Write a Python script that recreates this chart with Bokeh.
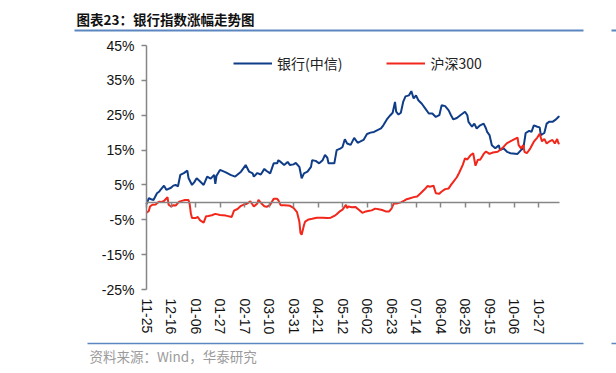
import datetime as dt
from bokeh.plotting import figure
from bokeh.models import (Range1d, FixedTicker, PrintfTickFormatter, DatetimeTickFormatter,
                          DatetimeAxis, CustomJSTickFormatter, Legend, LegendItem,
                          ColumnDataSource)
from bokeh.core.properties import value
from bokeh.embed import file_html
from bokeh.resources import INLINE

# ---------------- data ----------------
title_text = "图表23：银行指数涨幅走势图"
source_text = "资料来源：Wind，华泰研究"
series_names = ["银行(中信)", "沪深300"]

x_start = "2024-11-25"
x_end = "2025-11-14"
y_min, y_max = -25, 45
y_ticks = [45, 35, 25, 15, 5, -5, -15, -25]
tick_dates = ["2024-11-25", "2024-12-16", "2025-01-06", "2025-01-27", "2025-02-17",
              "2025-03-10", "2025-03-31", "2025-04-21", "2025-05-12", "2025-06-02",
              "2025-06-23", "2025-07-14", "2025-08-04", "2025-08-25", "2025-09-15",
              "2025-10-06", "2025-10-27"]

bank_dates = ["2024-11-25", "2024-11-27", "2024-11-29", "2024-12-01", "2024-12-04", "2024-12-06",
              "2024-12-07", "2024-12-10", "2024-12-12", "2024-12-16", "2024-12-18", "2024-12-20",
              "2024-12-22", "2024-12-24", "2024-12-27", "2024-12-30", "2024-12-31", "2025-01-03",
              "2025-01-05", "2025-01-07", "2025-01-10", "2025-01-13", "2025-01-16", "2025-01-19",
              "2025-01-22", "2025-01-23", "2025-01-24", "2025-01-27", "2025-02-01", "2025-02-05",
              "2025-02-09", "2025-02-14", "2025-02-18", "2025-02-21", "2025-02-24", "2025-02-25",
              "2025-02-28", "2025-03-03", "2025-03-06", "2025-03-08", "2025-03-11", "2025-03-14",
              "2025-03-17", "2025-03-18", "2025-03-20", "2025-03-23", "2025-03-26", "2025-03-28",
              "2025-03-31", "2025-04-02", "2025-04-05", "2025-04-07", "2025-04-09", "2025-04-12",
              "2025-04-15", "2025-04-16", "2025-04-19", "2025-04-22", "2025-04-25", "2025-04-27",
              "2025-04-29", "2025-04-30", "2025-05-05", "2025-05-07", "2025-05-10", "2025-05-12",
              "2025-05-14", "2025-05-16", "2025-05-19", "2025-05-22", "2025-05-25", "2025-05-27",
              "2025-05-30", "2025-06-02", "2025-06-05", "2025-06-08", "2025-06-11", "2025-06-14",
              "2025-06-16", "2025-06-19", "2025-06-22", "2025-06-24", "2025-06-26", "2025-06-27",
              "2025-06-29", "2025-07-01", "2025-07-03", "2025-07-05", "2025-07-08", "2025-07-10",
              "2025-07-12", "2025-07-14", "2025-07-16", "2025-07-19", "2025-07-22", "2025-07-25",
              "2025-07-28", "2025-07-31", "2025-08-03", "2025-08-05", "2025-08-08", "2025-08-11",
              "2025-08-13", "2025-08-15", "2025-08-18", "2025-08-21", "2025-08-25", "2025-08-27",
              "2025-08-28", "2025-08-31", "2025-09-02", "2025-09-04", "2025-09-07", "2025-09-10",
              "2025-09-12", "2025-09-13", "2025-09-15", "2025-09-17", "2025-09-20", "2025-09-23",
              "2025-09-24", "2025-09-27", "2025-09-30", "2025-10-03", "2025-10-09", "2025-10-12",
              "2025-10-14", "2025-10-16", "2025-10-19", "2025-10-21", "2025-10-23", "2025-10-26",
              "2025-10-28", "2025-10-29", "2025-11-01", "2025-11-03", "2025-11-05", "2025-11-08",
              "2025-11-11", "2025-11-13", "2025-11-14"]
bank_values = [-0.5, 1.2, 0.9, 0.7, 2.6, 3.1,
               3.6, 4.8, 3.6, 4.2, 4.8, 5.0,
               4.6, 7.9, 8.4, 9.1, 7.0, 5.0,
               5.8, 6.9, 6.0, 5.0, 7.4, 6.8,
               7.9, 5.3, 7.6, 9.3, 8.6, 7.9,
               7.4, 8.8, 10.7, 8.8, 8.3, 7.4,
               8.4, 8.0, 9.6, 9.0, 8.3, 11.2,
               11.2, 12.1, 11.6, 10.7, 11.6, 10.7,
               10.9, 11.3, 10.2, 6.9, 8.3, 8.8,
               10.2, 12.1, 11.9, 11.2, 12.1, 13.6,
               12.8, 11.2, 11.2, 15.0, 15.4, 15.9,
               18.1, 16.9, 16.5, 18.5, 17.1, 17.4,
               17.9, 19.6, 20.0, 20.2, 20.7, 21.2,
               22.1, 23.8, 25.0, 25.7, 28.8, 26.0,
               25.2, 25.7, 28.8, 30.4, 30.7, 31.9,
               29.8, 30.7, 29.3, 28.3, 26.9, 25.5,
               25.5, 24.5, 25.0, 27.9, 27.6, 26.4,
               25.0, 23.8, 24.2, 25.0, 26.0, 25.0,
               23.1, 21.7, 22.6, 21.2, 22.1, 22.6,
               21.2, 20.2, 19.3, 16.4, 15.5, 16.4,
               15.0, 15.5, 14.5, 14.1, 13.9, 15.0,
               15.5, 19.9, 20.5, 20.2, 22.1, 21.7,
               21.5, 19.3, 19.9, 22.6, 23.1, 23.1,
               23.8, 24.5, 24.7]

hs300_dates = ["2024-11-25", "2024-11-27", "2024-11-28", "2024-11-30", "2024-12-03", "2024-12-04",
               "2024-12-06", "2024-12-08", "2024-12-10", "2024-12-13", "2024-12-14", "2024-12-16",
               "2024-12-18", "2024-12-20", "2024-12-23", "2024-12-26", "2024-12-28", "2024-12-31",
               "2025-01-01", "2025-01-02", "2025-01-03", "2025-01-06", "2025-01-08", "2025-01-10",
               "2025-01-13", "2025-01-15", "2025-01-17", "2025-01-20", "2025-01-23", "2025-01-27",
               "2025-02-01", "2025-02-06", "2025-02-08", "2025-02-11", "2025-02-14", "2025-02-16",
               "2025-02-19", "2025-02-22", "2025-02-25", "2025-02-28", "2025-03-01", "2025-03-04",
               "2025-03-06", "2025-03-08", "2025-03-11", "2025-03-14", "2025-03-17", "2025-03-18",
               "2025-03-20", "2025-03-23", "2025-03-26", "2025-03-28", "2025-03-31", "2025-04-03",
               "2025-04-05", "2025-04-06", "2025-04-07", "2025-04-09", "2025-04-10", "2025-04-13",
               "2025-04-16", "2025-04-20", "2025-04-25", "2025-04-29", "2025-05-02", "2025-05-05",
               "2025-05-07", "2025-05-10", "2025-05-12", "2025-05-15", "2025-05-16", "2025-05-17",
               "2025-05-20", "2025-05-23", "2025-05-26", "2025-05-29", "2025-06-01", "2025-06-04",
               "2025-06-06", "2025-06-09", "2025-06-12", "2025-06-15", "2025-06-18", "2025-06-21",
               "2025-06-23", "2025-06-25", "2025-06-28", "2025-07-01", "2025-07-04", "2025-07-06",
               "2025-07-09", "2025-07-12", "2025-07-15", "2025-07-18", "2025-07-21", "2025-07-24",
               "2025-07-26", "2025-07-29", "2025-07-31", "2025-08-03", "2025-08-05", "2025-08-08",
               "2025-08-11", "2025-08-13", "2025-08-15", "2025-08-18", "2025-08-20", "2025-08-23",
               "2025-08-25", "2025-08-27", "2025-08-30", "2025-09-01", "2025-09-03", "2025-09-05",
               "2025-09-07", "2025-09-10", "2025-09-12", "2025-09-15", "2025-09-18", "2025-09-22",
               "2025-09-24", "2025-09-27", "2025-09-30", "2025-10-04", "2025-10-09", "2025-10-10",
               "2025-10-12", "2025-10-14", "2025-10-15", "2025-10-17", "2025-10-20", "2025-10-23",
               "2025-10-26", "2025-10-28", "2025-10-30", "2025-11-01", "2025-11-03", "2025-11-05",
               "2025-11-08", "2025-11-10", "2025-11-12", "2025-11-13", "2025-11-14"]
hs300_values = [-3.0, -2.5, -1.2, -0.7, -0.6, -0.2,
                0.2, 0.1, 0.4, 1.5, -0.7, -1.2,
                -0.8, -0.9, 0.2, 0.5, 0.7, 0.7,
                -0.5, -3.1, -4.5, -4.5, -4.2, -5.2,
                -5.8, -4.0, -3.9, -3.7, -3.3, -3.6,
                -3.8, -4.2, -2.4, -1.9, -1.0, -0.7,
                -0.4, 0.3, -1.2, -0.3, 0.7, -0.5,
                -1.1, -1.3, -0.7, 1.0, 1.0, 0.6,
                -0.8, -0.8, -0.9, -1.0, -1.6, -2.8,
                -5.5, -8.8, -9.3, -6.5, -5.5, -4.9,
                -4.7, -4.4, -4.4, -4.5, -4.4, -3.9,
                -3.4, -2.5, -2.1, -0.7, -1.7, -1.2,
                -1.4, -1.3, -2.1, -3.0, -2.6, -2.4,
                -2.3, -1.8, -2.0, -2.2, -2.6, -2.6,
                -1.8, -0.3, -0.3, 0.0, 0.5, 0.9,
                1.2, 1.5, 1.7, 2.6, 3.6, 4.7,
                4.5, 4.8, 2.6, 2.5, 3.1, 3.8,
                4.0, 5.0, 5.9, 7.2, 8.5, 10.7,
                12.6, 12.3, 13.6, 14.1, 10.5, 12.2,
                12.2, 13.9, 14.6, 13.9, 14.3, 14.5,
                15.0, 15.9, 17.0, 17.7, 18.6, 16.4,
                15.5, 16.4, 14.5, 14.1, 15.5, 17.4,
                18.6, 19.7, 17.5, 18.2, 16.9, 17.4,
                17.9, 16.9, 18.2, 17.0, 16.8]

assert len(bank_dates) == len(bank_values)
assert len(hs300_dates) == len(hs300_values)

# ---------------- styles / layout ----------------
BLUE = "#0f3d88"
RED = "#f2261a"
AXIS_GRAY = "#868686"
RULE_BLUE = "#5b86c0"
CJK = "Noto Sans CJK SC"
LATIN = "Liberation Sans"
W, H = 616, 373                      # canvas = whole window
PLOT_L, PLOT_R, PLOT_T, PLOT_B = 146, 559, 45, 289   # plot area in pixels


def to_dt(s):
    return dt.datetime.strptime(s, "%Y-%m-%d")


def to_ms(s):
    return (to_dt(s) - dt.datetime(1970, 1, 1)).total_seconds() * 1000.0


ms0, ms1 = to_ms(x_start), to_ms(x_end)
ms_per_px = (ms1 - ms0) / (PLOT_R - PLOT_L)
u_per_px = (y_max - y_min) / (PLOT_B - PLOT_T)
xr = Range1d(ms0 - PLOT_L * ms_per_px, ms1 + (W - PLOT_R) * ms_per_px)
yr = Range1d(y_min - (H - PLOT_B) * u_per_px, y_max + PLOT_T * u_per_px)


def px_x(px):
    return xr.start + px * ms_per_px


def px_y(py):
    return yr.end - py * u_per_px


p = figure(width=W, height=H, x_axis_type="datetime", x_range=xr, y_range=yr,
           title=None, output_backend="svg", toolbar_location=None,
           min_border=0, min_border_left=0, min_border_right=0,
           min_border_top=0, min_border_bottom=0)
p.outline_line_color = None
p.xgrid.visible = False
p.ygrid.visible = False
p.background_fill_color = "white"
p.border_fill_color = "white"

# y axis, pinned to the first date
yax = p.yaxis[0]
yax.fixed_location = ms0
yax.bounds = (y_min, y_max)
yax.ticker = FixedTicker(ticks=y_ticks)
yax.formatter = PrintfTickFormatter(format="%d%%")
yax.axis_line_color = AXIS_GRAY
yax.axis_line_width = 1.5
yax.major_tick_line_color = AXIS_GRAY
yax.major_tick_line_width = 1.5
yax.major_tick_in = 0
yax.major_tick_out = 5
yax.minor_tick_line_color = None
yax.major_label_standoff = 7
yax.major_label_text_font = LATIN
yax.major_label_text_font_size = "14px"
yax.major_label_text_color = "#111111"

# date labels along the bottom of the plot area
tick_ms = [to_ms(d) for d in tick_dates]
xax = p.xaxis[0]
xax.fixed_location = y_min
xax.bounds = (ms0, ms1)
xax.ticker = FixedTicker(ticks=tick_ms)
xax.formatter = DatetimeTickFormatter(days="%m-%d", months="%m-%d", years="%m-%d",
                                      hours="%m-%d", minutes="%m-%d")
xax.axis_line_color = None
xax.major_tick_line_color = None
xax.minor_tick_line_color = None
xax.major_tick_in = 0
xax.major_tick_out = 0
xax.major_label_standoff = 9
xax.major_label_orientation = "vertical"
xax.major_label_text_font = LATIN
xax.major_label_text_font_size = "14px"
xax.major_label_text_color = "#111111"

# category axis line on the zero level, ticks pointing down
zero_axis = DatetimeAxis(fixed_location=0, bounds=(ms0, ms1), ticker=FixedTicker(ticks=tick_ms),
                         formatter=CustomJSTickFormatter(code="return ''"),
                         axis_line_color=AXIS_GRAY, axis_line_width=1.5,
                         major_tick_line_color=AXIS_GRAY, major_tick_line_width=1.5,
                         major_tick_in=0, major_tick_out=5, minor_tick_line_color=None,
                         major_label_standoff=0, major_label_text_font_size="1px")
p.add_layout(zero_axis, "below")

# series
bank_src = ColumnDataSource(dict(x=[to_dt(d) for d in bank_dates], y=bank_values))
hs_src = ColumnDataSource(dict(x=[to_dt(d) for d in hs300_dates], y=hs300_values))
r_bank = p.line("x", "y", source=bank_src, line_color=BLUE, line_width=2.0)
r_hs = p.line("x", "y", source=hs_src, line_color=RED, line_width=2.0)

legend = Legend(items=[LegendItem(label=series_names[0], renderers=[r_bank]),
                       LegendItem(label=series_names[1], renderers=[r_hs])],
                orientation="horizontal", location=(233, H - 73),
                border_line_color=None, background_fill_alpha=0,
                label_text_font=CJK, label_text_font_size="14px",
                label_text_color="#222222",
                glyph_width=39, glyph_height=20, label_height=20,
                label_standoff=5, spacing=44, padding=0, margin=0)
p.add_layout(legend, "center")

# title, rules and source note
p.text(x=[px_x(76)], y=[px_y(18)], text=[title_text], text_font=value(CJK),
       text_font_style="bold", text_font_size="13.5px", text_color="#111111",
       text_baseline="middle")
p.segment(x0=[px_x(74), px_x(611)], y0=[px_y(30)] * 2, x1=[px_x(583), px_x(W)],
          y1=[px_y(30)] * 2, line_color=RULE_BLUE, line_width=2)
p.segment(x0=[px_x(87), px_x(611)], y0=[px_y(343)] * 2, x1=[px_x(583), px_x(W)],
          y1=[px_y(343)] * 2, line_color=RULE_BLUE, line_width=1.5)
p.text(x=[px_x(89)], y=[px_y(355)], text=[source_text], text_font=value(CJK),
       text_font_size="13.5px", text_color="#9b9b9b", text_baseline="middle")

open("out.html", "w").write(file_html(p, INLINE))
